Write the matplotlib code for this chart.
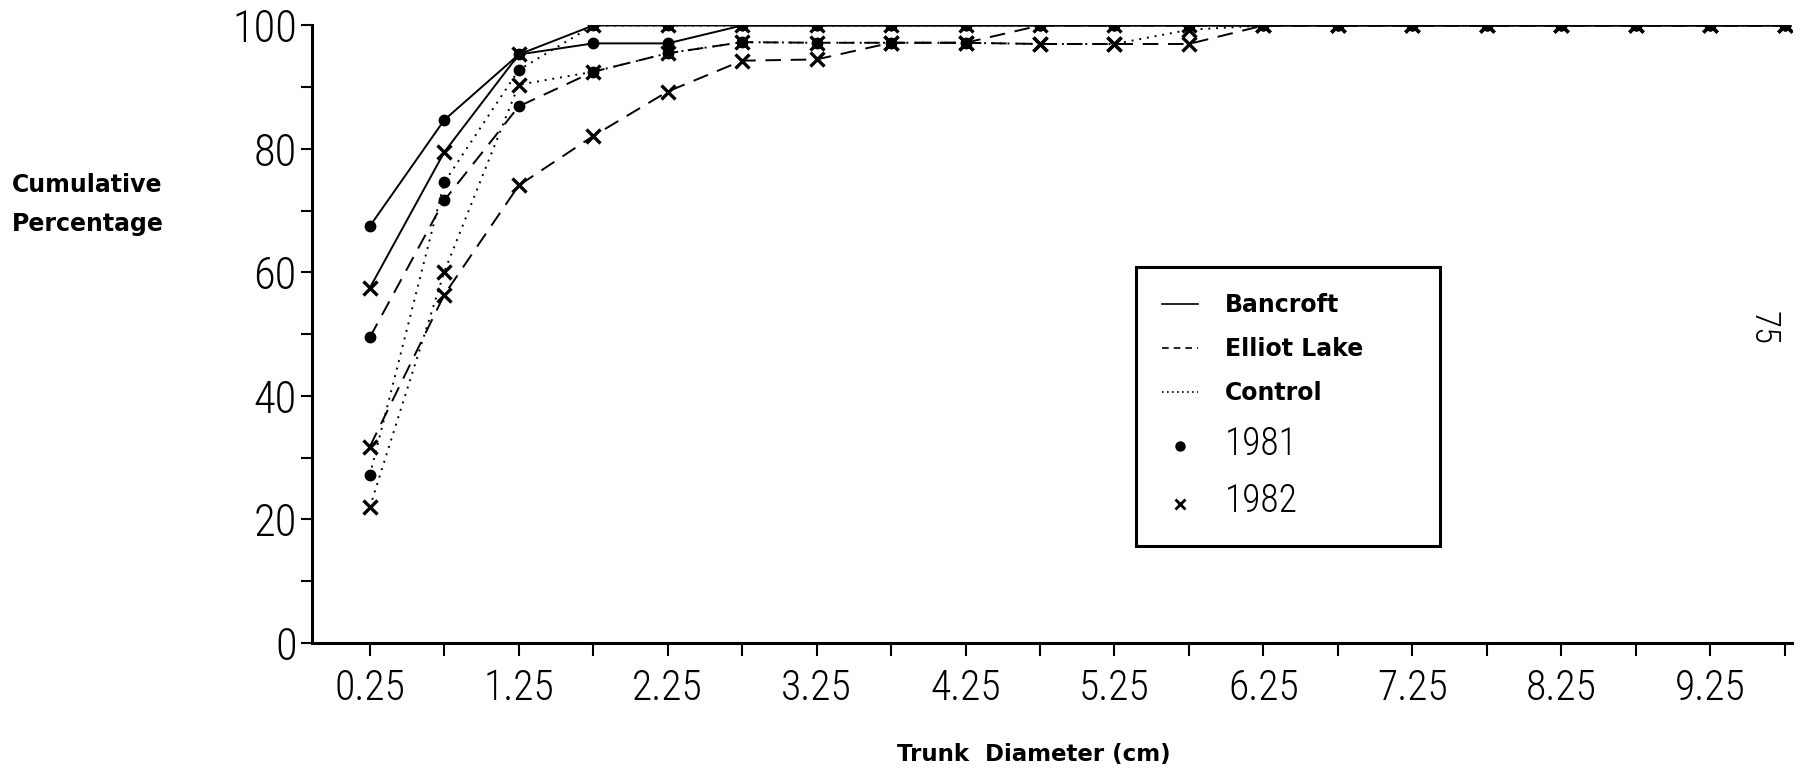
import matplotlib.pyplot as plt
from matplotlib.lines import Line2D

# trunk diameter class midpoints (cm)
diam = [0.25, 0.75, 1.25, 1.75, 2.25, 2.75, 3.25, 3.75, 4.25, 4.75,
        5.25, 5.75, 6.25, 6.75, 7.25, 7.75, 8.25, 8.75, 9.25, 9.75]

# cumulative percentages
bancroft_1981 = [67.5, 84.7, 95.3, 97.1, 97.1, 100, 100, 100, 100, 100,
                 100, 100, 100, 100, 100, 100, 100, 100, 100, 100]
bancroft_1982 = [57.5, 79.5, 95.3, 100, 100, 100, 100, 100, 100, 100,
                 100, 100, 100, 100, 100, 100, 100, 100, 100, 100]
elliot_1981 = [49.5, 71.7, 86.9, 92.5, 95.5, 97.3, 97.2, 97.2, 97.2, 100,
               100, 100, 100, 100, 100, 100, 100, 100, 100, 100]
elliot_1982 = [31.8, 56.4, 74.1, 82.1, 89.3, 94.3, 94.5, 97.2, 97.2, 97.0,
               97.0, 97.0, 100, 100, 100, 100, 100, 100, 100, 100]
control_1981 = [27.2, 74.6, 92.8, 100, 100, 100, 100, 100, 100, 100,
                100, 100, 100, 100, 100, 100, 100, 100, 100, 100]
control_1982 = [22.0, 60.1, 90.4, 92.5, 95.5, 97.3, 97.2, 97.2, 97.2, 97.0,
                97.0, 99.3, 100, 100, 100, 100, 100, 100, 100, 100]

x_labels = ["0.25", "1.25", "2.25", "3.25", "4.25", "5.25", "6.25", "7.25", "8.25", "9.25"]
y_labels = ["0", "20", "40", "60", "80", "100"]

# thin, narrow digits like the typed original
narrow = ["Roboto Condensed", "Open Sans Condensed", "Liberation Sans Narrow", "Roboto", "DejaVu Sans"]
dashed = (0, (8, 5))
dotted = (0, (1, 3))

fig = plt.figure(figsize=(18.07, 7.72), dpi=100)
ax = fig.add_axes([0.1727, 0.1671, 0.8190, 0.7999])

# dotted first, solid last (solid sits on top where they overlap)
series = [
    (control_1981, dotted, "o"),
    (control_1982, dotted, "x"),
    (elliot_1981, dashed, "o"),
    (elliot_1982, dashed, "x"),
    (bancroft_1981, "-", "o"),
    (bancroft_1982, "-", "x"),
]
for vals, ls, mk in series:
    if mk == "o":
        ax.plot(diam, vals, color="black", linestyle=ls, linewidth=1.4,
                marker="o", markersize=7.5, zorder=3)
    else:
        ax.plot(diam, vals, color="black", linestyle=ls, linewidth=1.4,
                marker="x", markersize=10, markeredgewidth=2.4, zorder=3)

ax.set_xlim(-0.138, 9.80)
ax.set_ylim(0, 100)

for s in ["top", "right"]:
    ax.spines[s].set_visible(False)
for s in ["left", "bottom"]:
    ax.spines[s].set_linewidth(2.2)

ax.set_xticks(diam[0::2])
ax.set_xticklabels(x_labels, fontfamily=narrow, fontweight="light", fontsize=30)
ax.set_xticks(diam[1::2], minor=True)
ax.set_yticks([0, 20, 40, 60, 80, 100])
ax.set_yticklabels(y_labels, fontfamily=narrow, fontweight="light", fontsize=32)
ax.set_yticks([10, 30, 50, 70, 90], minor=True)

ax.tick_params(axis="x", which="both", direction="out", length=9, width=1.5, pad=9)
ax.tick_params(axis="y", which="both", direction="out", length=8, width=1.5, pad=3)

fig.text(12 / 1807, 1 - 173 / 772, "Cumulative\nPercentage", ha="left", va="top",
         fontsize=17, fontweight="bold", linespacing=1.8)
fig.text(1034 / 1807, 1 - 755 / 772, "Trunk  Diameter (cm)", ha="center", va="center",
         fontsize=16.5, fontweight="bold")
fig.text(1763 / 1807, 1 - 328 / 772, "75", ha="center", va="center", rotation=-90,
         fontsize=25, fontfamily=narrow, fontweight="light")

handles = [
    Line2D([], [], color="black", linestyle="-", linewidth=1.2),
    Line2D([], [], color="black", linestyle=(0, (4, 3)), linewidth=1.2),
    Line2D([], [], color="black", linestyle=(0, (1, 2)), linewidth=1.2),
    Line2D([], [], color="black", linestyle="none", marker="o", markersize=6.5),
    Line2D([], [], color="black", linestyle="none", marker="x", markersize=7, markeredgewidth=2),
]
labels = ["Bancroft", "Elliot Lake", "Control", "1981", "1982"]
leg = ax.legend(handles, labels, loc="upper left",
                bbox_to_anchor=(0.557, 0.162, 0.205, 0.447), mode="expand",
                frameon=True, fancybox=False, framealpha=1, edgecolor="black",
                fontsize=17, handlelength=1.5, handletextpad=1.15, labelspacing=0.85,
                borderpad=1.1, borderaxespad=0)
leg.get_frame().set_linewidth(2.2)
for t in leg.get_texts()[:3]:
    t.set_fontweight("bold")
for t in leg.get_texts()[3:]:
    t.set_fontfamily(narrow)
    t.set_fontweight("light")
    t.set_fontsize(27)

fig.savefig("out.png", dpi=100)
